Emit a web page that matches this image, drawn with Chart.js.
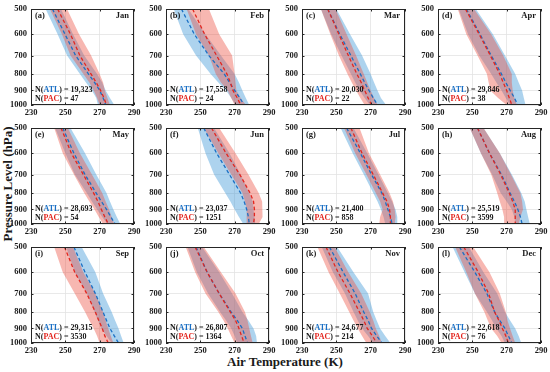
<!DOCTYPE html>
<html>
<head>
<meta charset="utf-8">
<script src="https://cdn.jsdelivr.net/npm/chart.js@4.4.1/dist/chart.umd.min.js"></script>
<style>
  body { margin: 0; background: #fff; }
  #fig { position: relative; width: 550px; height: 372px; overflow: hidden; background: #fff;
         font-family: "Liberation Serif", "Times New Roman", serif; }
  #fig canvas { position: absolute; }
  .axisTitle { position: absolute; font-weight: bold; font-size: 13px; white-space: nowrap; color: #1a1a1a; }
  #xTitle { left: 185px; width: 200px; top: 354px; text-align: center; }
  #yTitle { left: -92px; width: 200px; top: 176px; text-align: center; transform: rotate(-90deg); }
</style>
</head>
<body>
<div id="fig">
  <div class="axisTitle" id="xTitle">Air Temperature (K)</div>
  <div class="axisTitle" id="yTitle">Pressure Level (hPa)</div>
</div>

<script>
// panel labels
var months = ['Jan', 'Feb', 'Mar', 'Apr', 'May', 'Jun', 'Jul', 'Aug', 'Sep', 'Oct', 'Nov', 'Dec'];
var tags = ['(a)', '(b)', '(c)', '(d)', '(e)', '(f)', '(g)', '(h)', '(i)', '(j)', '(k)', '(l)'];
var nAtl = ['19,323', '17,558', '20,030', '29,846', '28,693', '23,037', '21,400', '25,519', '29,315', '26,807', '24,677', '22,618'];
var nPac = ['47', '24', '22', '38', '54', '1251', '858', '3599', '3530', '1364', '214', '76'];

// pressure levels (hPa) and axis ticks
var levels = [500, 600, 700, 800, 850, 900, 950, 1000];
var pressureTicks = [500, 600, 700, 800, 900, 1000];
var tempTicks = [230, 250, 270, 290];

// air temperature (K), one row per month, values at each level
var atlMean = [
  [242.5, 249.8, 256, 263.5, 267, 270, 272, 273.5],
  [239, 246.5, 255, 264, 267, 270, 273, 275.5],
  [245, 252, 258.5, 264, 266.5, 269, 271.5, 274],
  [246.5, 254.5, 261, 267, 269.5, 272, 274.5, 276.5],
  [248.5, 255, 261.5, 268, 271, 274, 276.5, 279],
  [252, 259.5, 267, 273.5, 275.5, 277, 278, 278.5],
  [256, 264, 270.5, 276.5, 278.5, 280, 281.5, 282.5],
  [253, 260, 267, 272, 274.5, 276.5, 278, 279],
  [255, 261.5, 267.5, 272, 274, 276, 278.5, 281],
  [247.5, 254, 261, 268, 271.5, 274.5, 276, 277.5],
  [246, 254, 261, 266, 268.5, 270.5, 273.5, 276.5],
  [242.5, 251.5, 258.5, 263, 266, 269, 271, 273]
];
var atlLo = [
  [238.5, 245.5, 251, 258.5, 262, 265.5, 268, 269],
  [234.5, 240, 247.5, 256, 260.5, 265, 268, 270.5],
  [241, 247, 253, 258.5, 261, 263.5, 266.5, 269.5],
  [242, 247.5, 254, 261, 264, 267, 269.5, 272],
  [244, 250, 255.5, 262.5, 265.5, 268.5, 271.5, 274.5],
  [248.5, 253, 258, 264.5, 267.5, 270, 272.5, 275],
  [252.5, 259.5, 266, 271.5, 274, 276, 277.5, 278.5],
  [248.5, 255, 261.5, 266.5, 270, 273, 274.5, 275],
  [250.5, 255.5, 262.5, 267, 269, 271, 274, 277],
  [242.5, 248, 254.5, 261.5, 265, 268, 270, 271.5],
  [241.5, 248, 255, 260, 262.5, 265, 268.5, 271.5],
  [238.5, 245.5, 251.5, 258.5, 261.5, 264, 267, 269]
];
var atlHi = [
  [247.5, 254.5, 261, 268.5, 271.5, 273.5, 276, 278.5],
  [243, 253, 262, 270, 272.5, 274.5, 276.5, 278.5],
  [250, 258, 265, 270, 272, 274, 276, 279],
  [252, 262, 269, 275, 277, 279, 280, 281],
  [253, 261.5, 268, 274, 276, 278, 280, 282],
  [258, 267, 273.5, 278.5, 280.5, 281, 281.5, 282],
  [260, 268, 274.5, 280, 282.5, 284.5, 285.5, 285.5],
  [256.5, 266, 273, 278.5, 280.5, 281.5, 282.5, 283.5],
  [259.5, 267.5, 272, 277, 279, 281, 282.5, 284],
  [251, 261, 268.5, 274.5, 278, 281, 282.5, 283],
  [250.5, 260, 268.5, 271.5, 273.5, 275.5, 278.5, 281.5],
  [248, 256.5, 264.5, 269, 272, 275, 277, 278.5]
];
var pacMean = [
  [245.5, 253, 258.5, 265, 268, 270.5, 272.5, 274],
  [245.5, 252.5, 259.5, 265.5, 267.5, 269, 271.5, 273.5],
  [245, 251.5, 257, 262, 264.5, 266.5, 268.5, 270.5],
  [246, 254, 260.5, 266, 268, 270, 271.5, 273],
  [247.5, 253.5, 260.5, 266.5, 269, 271, 273, 275],
  [256.5, 265, 273, 279, 281, 281.5, 281.5, 281],
  [258.5, 265, 271.5, 277, 279.5, 281, 281.5, 281.5],
  [253, 260, 266.5, 271.5, 273.5, 275, 275, 275],
  [249.5, 255.5, 262.5, 267.5, 269.5, 271.5, 273, 275],
  [247, 254, 261, 267.5, 270.5, 272.5, 274, 275.5],
  [244, 251, 258, 263.5, 266, 268, 271, 273.5],
  [245, 253.5, 259.5, 263, 265.5, 267.5, 269.5, 271]
];
var pacLo = [
  [241, 248, 253, 260.5, 264, 266.5, 268.5, 270],
  [242, 247.5, 255, 259, 262, 266, 268, 270],
  [241, 246.5, 251.5, 256.5, 259, 261.5, 264, 266.5],
  [241.5, 246.5, 253, 258.5, 259.5, 260.5, 265, 270],
  [243.5, 248.5, 255, 261, 264, 267, 269.5, 272],
  [252, 260.5, 268, 274.5, 276, 277, 277, 277],
  [254.5, 261, 267.5, 273, 275.5, 277, 275.5, 275],
  [248.5, 255, 261, 264.5, 266, 267.5, 268.5, 269],
  [243.5, 248.5, 255.5, 261.5, 264, 266.5, 268.5, 270],
  [241.5, 247, 253, 260.5, 263.5, 266, 268, 270],
  [239, 245.5, 252, 257.5, 260, 262.5, 265, 267.5],
  [240, 246.5, 251.5, 257, 259, 261, 264.5, 267]
];
var pacHi = [
  [251, 258, 265, 270, 272, 273, 274.5, 276],
  [255, 261, 268.5, 270, 270.5, 271, 273.5, 276.5],
  [249.5, 256, 261.5, 266, 268, 270, 272, 274],
  [251, 261, 268, 273, 273, 273.5, 274.5, 276],
  [251.5, 258.5, 265.5, 271.5, 273.5, 275.5, 277, 278.5],
  [261, 270.5, 278, 284, 286, 286.5, 286, 284],
  [263.5, 269, 275.5, 281, 283, 284, 284.5, 284],
  [256.5, 266, 272.5, 278, 279, 279.5, 278, 277],
  [254.5, 260.5, 267.5, 272, 273.5, 275, 276.5, 278],
  [252, 262, 270.5, 276, 277.5, 278.5, 279.5, 280.5],
  [249, 257, 264.5, 269.5, 271.5, 273, 275, 276.5],
  [250.5, 260, 266, 269.5, 270.5, 272, 273.5, 275]
];

var ATL_LINE = '#1a6fc4';
var PAC_LINE = '#e3261f';
var ATL_FILL = 'rgba(60, 150, 215, 0.42)';
var PAC_FILL = 'rgba(235, 75, 60, 0.40)';

// layout of the 4 x 3 grid of panels (plot area corners)
var plotLefts = [31, 166, 302, 438];
var plotTops = [9, 128, 247];
var plotW = 103, plotH = 96;
var padLeft = 30, padTop = 6, padRight = 10, padBottom = 14;

Chart.defaults.font.family = '"Liberation Serif", "Times New Roman", serif';
Chart.defaults.font.weight = 'bold';
Chart.defaults.color = '#1a1a1a';

function profile(temps) {
  return levels.map(function (p, i) { return { x: temps[i], y: p }; });
}

// frame, inward ticks and the text inside each panel
var panelDecor = {
  id: 'panelDecor',
  afterDraw: function (chart) {
    var ctx = chart.ctx, a = chart.chartArea, k = chart.options.plugins.panelDecor.index;
    var xs = chart.scales.x, ys = chart.scales.y;
    ctx.save();
    ctx.strokeStyle = '#262626';
    ctx.lineWidth = 1;
    ctx.beginPath();
    pressureTicks.forEach(function (p) {
      var y = Math.round(ys.getPixelForValue(p)) + 0.5;
      ctx.moveTo(a.left, y); ctx.lineTo(a.left + 2.5, y);
      ctx.moveTo(a.right, y); ctx.lineTo(a.right - 2.5, y);
    });
    tempTicks.forEach(function (t) {
      var x = Math.round(xs.getPixelForValue(t)) + 0.5;
      ctx.moveTo(x, a.bottom); ctx.lineTo(x, a.bottom - 2.5);
      ctx.moveTo(x, a.top); ctx.lineTo(x, a.top + 2.5);
    });
    ctx.stroke();
    ctx.strokeRect(a.left + 0.5, a.top + 0.5, a.right - a.left - 1, a.bottom - a.top - 1);

    ctx.fillStyle = '#1a1a1a';
    ctx.textBaseline = 'middle';
    ctx.font = 'bold 8.5px "Liberation Serif", serif';
    ctx.textAlign = 'left';
    ctx.fillText(tags[k], a.left + 4, a.top + 6.5);
    ctx.textAlign = 'right';
    ctx.fillText(months[k], a.right - 5, a.top + 6.5);

    ctx.font = 'bold 8px "Liberation Serif", serif';
    ctx.textAlign = 'left';
    function countLine(name, color, value, y) {
      var x = a.left + 4;
      var parts = [['N(', '#1a1a1a'], [name, color], [') = ' + value, '#1a1a1a']];
      parts.forEach(function (part) {
        ctx.fillStyle = part[1];
        ctx.fillText(part[0], x, y);
        x += ctx.measureText(part[0]).width;
      });
    }
    countLine('ATL', ATL_LINE, nAtl[k], a.bottom - 15.5);
    countLine('PAC', PAC_LINE, nPac[k], a.bottom - 6);
    ctx.restore();
  }
};

var fig = document.getElementById('fig');

months.forEach(function (m, k) {
  var col = k % 4, row = Math.floor(k / 4);
  var canvas = document.createElement('canvas');
  canvas.width = padLeft + plotW + padRight;
  canvas.height = padTop + plotH + padBottom;
  canvas.style.left = (plotLefts[col] - padLeft) + 'px';
  canvas.style.top = (plotTops[row] - padTop) + 'px';
  fig.appendChild(canvas);

  new Chart(canvas.getContext('2d'), {
    type: 'line',
    data: {
      datasets: [
        { data: profile(atlLo[k]), borderWidth: 0, pointRadius: 0, fill: false, order: 6 },
        { data: profile(atlHi[k]), borderWidth: 0, pointRadius: 0, fill: '-1', backgroundColor: ATL_FILL, order: 6 },
        { data: profile(pacLo[k]), borderWidth: 0, pointRadius: 0, fill: false, order: 5 },
        { data: profile(pacHi[k]), borderWidth: 0, pointRadius: 0, fill: '-1', backgroundColor: PAC_FILL, order: 5 },
        { data: profile(atlMean[k]), borderColor: ATL_LINE, borderWidth: 1.3, borderDash: [3.5, 2.5], pointRadius: 0, fill: false, order: 2 },
        { data: profile(pacMean[k]), borderColor: PAC_LINE, borderWidth: 1.3, borderDash: [3.5, 2.5], pointRadius: 0, fill: false, order: 1 }
      ]
    },
    options: {
      indexAxis: 'y',
      responsive: false,
      animation: false,
      devicePixelRatio: 1,
      layout: { padding: { left: 0, top: padTop, right: padRight, bottom: 0 } },
      plugins: { legend: { display: false }, tooltip: { enabled: false }, panelDecor: { index: k } },
      scales: {
        x: {
          type: 'linear', min: 230, max: 290,
          afterBuildTicks: function (s) { s.ticks = tempTicks.map(function (v) { return { value: v }; }); },
          afterFit: function (s) { s.height = padBottom; s.paddingLeft = 0; s.paddingRight = 0; },
          grid: { color: '#e3e3e3', lineWidth: 0.8, drawTicks: false },
          border: { display: false },
          ticks: { font: { size: 8.5, weight: 'bold' }, padding: 3, maxRotation: 0, autoSkip: false }
        },
        y: {
          type: 'logarithmic', min: 500, max: 1000, reverse: true,
          afterBuildTicks: function (s) { s.ticks = pressureTicks.map(function (v) { return { value: v }; }); },
          afterFit: function (s) { s.width = padLeft; s.paddingTop = 0; s.paddingBottom = 0; },
          grid: { color: '#e3e3e3', lineWidth: 0.8, drawTicks: false },
          border: { display: false },
          ticks: { font: { size: 8.5, weight: 'bold' }, padding: 4, autoSkip: false,
                   callback: function (v) { return String(v); } }
        }
      }
    },
    plugins: [panelDecor]
  });
});
</script>
</body>
</html>
